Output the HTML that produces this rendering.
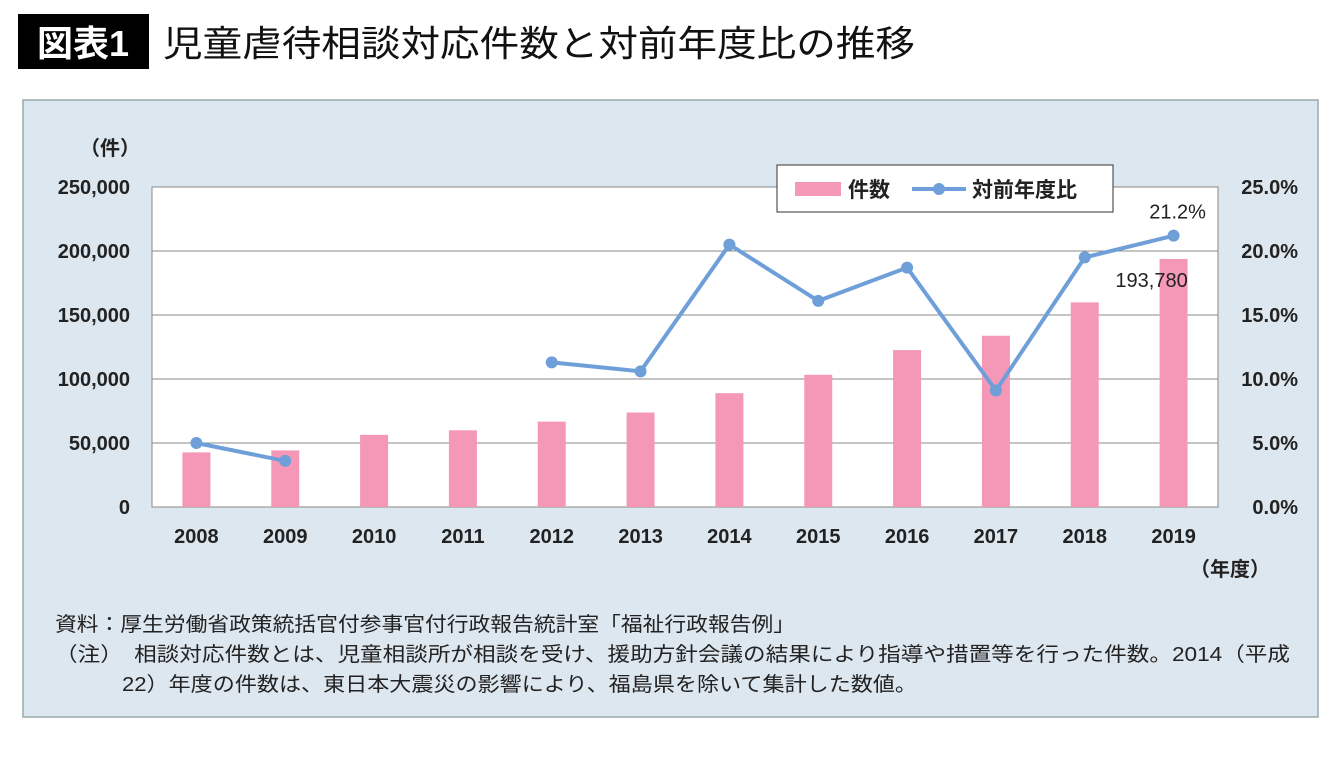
<!DOCTYPE html>
<html><head><meta charset="utf-8">
<style>
body{margin:0;background:#fff;width:1340px;height:753px;overflow:hidden;font-family:"Liberation Sans","Noto Sans CJK JP",sans-serif;}
</style></head>
<body>
<svg width="1340" height="753" xmlns="http://www.w3.org/2000/svg" font-family="Liberation Sans, Noto Sans CJK JP, sans-serif">
<rect x="18" y="14" width="131" height="55" fill="#000"/>
<text x="83" y="56" font-size="36" font-weight="bold" fill="#fff" text-anchor="middle">図表1</text>
<text x="163" y="56" font-size="36" fill="#111" textLength="752" lengthAdjust="spacingAndGlyphs">児童虐待相談対応件数と対前年度比の推移</text>
<rect x="23" y="100" width="1295" height="617" fill="#dde7ef" stroke="#9aa" stroke-width="1.5"/>
<rect x="152" y="187" width="1066" height="320" fill="#fff" stroke="#888"/>
<g id="grid"></g><g id="bars"></g><g id="line"></g><g id="labels"></g>
<text x="110" y="155" font-size="20" font-weight="bold" text-anchor="middle" fill="#222">（件）</text>
<text x="1230" y="576" font-size="20" font-weight="bold" text-anchor="middle" fill="#222">（年度）</text>
<g>
<rect x="777" y="165" width="336" height="47" fill="#fff" stroke="#333"/>
<rect x="795" y="182" width="46" height="14" fill="#f598b8"/>
<text x="848" y="197" font-size="21" font-weight="bold" fill="#222">件数</text>
<line x1="912" y1="189" x2="966" y2="189" stroke="#6f9fd8" stroke-width="4"/>
<circle cx="939" cy="189" r="6" fill="#6f9fd8"/>
<text x="972" y="197" font-size="21" font-weight="bold" fill="#222">対前年度比</text>
</g>
<text x="55" y="631" font-size="20" fill="#222" textLength="740" lengthAdjust="spacingAndGlyphs">資料：厚生労働省政策統括官付参事官付行政報告統計室「福祉行政報告例」</text>
<text x="55" y="661" font-size="20" fill="#222" textLength="1235" lengthAdjust="spacingAndGlyphs">（注）　相談対応件数とは、児童相談所が相談を受け、援助方針会議の結果により指導や措置等を行った件数。2014（平成</text>
<text x="122" y="691" font-size="20" fill="#222" textLength="795" lengthAdjust="spacingAndGlyphs">22）年度の件数は、東日本大震災の影響により、福島県を除いて集計した数値。</text>
</svg>
<script>
const years=["2008","2009","2010","2011","2012","2013","2014","2015","2016","2017","2018","2019"];
const counts=[42664,44211,56384,59919,66701,73802,88931,103286,122575,133778,159838,193780];
const ratios=[5.0,3.6,null,null,11.3,10.6,20.5,16.1,18.7,9.1,19.5,21.2];
const leftTicks=[0,50000,100000,150000,200000,250000];
const rightTicks=[0,5,10,15,20,25];
const NS="http://www.w3.org/2000/svg";
const X0=152,X1=1218,Y0=507,Y1=187;
const band=(X1-X0)/years.length;
const xc=i=>X0+band*(i+0.5);
const yl=v=>Y0-(v/250000)*(Y0-Y1);
const yr=v=>Y0-(v/25)*(Y0-Y1);
function mk(tag,attrs,parent,txt){const e=document.createElementNS(NS,tag);for(const k in attrs)e.setAttribute(k,attrs[k]);if(txt!=null)e.textContent=txt;document.getElementById(parent).appendChild(e);return e;}
leftTicks.forEach((t,i)=>{
 if(t>0&&t<250000){const g=mk('line',{x1:X0,x2:X1,y1:yl(t),y2:yl(t),stroke:'#888','stroke-width':1},'grid');
 
 }
 const l=mk('text',{x:130,y:yl(t)+7,'font-size':20,'font-weight':'bold','text-anchor':'end',fill:'#222'},'labels',t.toLocaleString('en-US'));
 
 
});
rightTicks.forEach(t=>{
 const l=mk('text',{x:1298,y:yr(t)+7,'font-size':20,'font-weight':'bold','text-anchor':'end',fill:'#222'},'labels',t.toFixed(1)+'%');
 
 
});
years.forEach((y,i)=>{
 const l=mk('text',{x:xc(i),y:543,'font-size':20,'font-weight':'bold','text-anchor':'middle',fill:'#222'},'labels',y);
 
 
 const b=mk('rect',{x:xc(i)-14,y:yl(counts[i]),width:28,height:Y0-yl(counts[i]),fill:'#f598b8'},'bars');
 
 
});
let seg=[];
const segs=[];
ratios.forEach((r,i)=>{if(r==null){if(seg.length)segs.push(seg);seg=[];}else seg.push([xc(i),yr(r)]);});
if(seg.length)segs.push(seg);
segs.forEach(s=>{
 const p=mk('polyline',{points:s.map(q=>q.join(',')).join(' '),fill:'none',stroke:'#6f9fd8','stroke-width':4},'line');
 
 
});
ratios.forEach((r,i)=>{if(r==null)return;
 const c=mk('circle',{cx:xc(i),cy:yr(r),r:6,fill:'#6f9fd8'},'line');
 
 
});
const n=years.length-1;
const a=mk('text',{x:xc(n)+4,y:yr(ratios[n])-17,'font-size':20,'text-anchor':'middle',fill:'#222'},'labels',ratios[n].toFixed(1)+'%');


const b2=mk('text',{x:xc(n)-22,y:yl(counts[n])+28,'font-size':20,'text-anchor':'middle',fill:'#222'},'labels',counts[n].toLocaleString('en-US'));


</script>
</body></html>
